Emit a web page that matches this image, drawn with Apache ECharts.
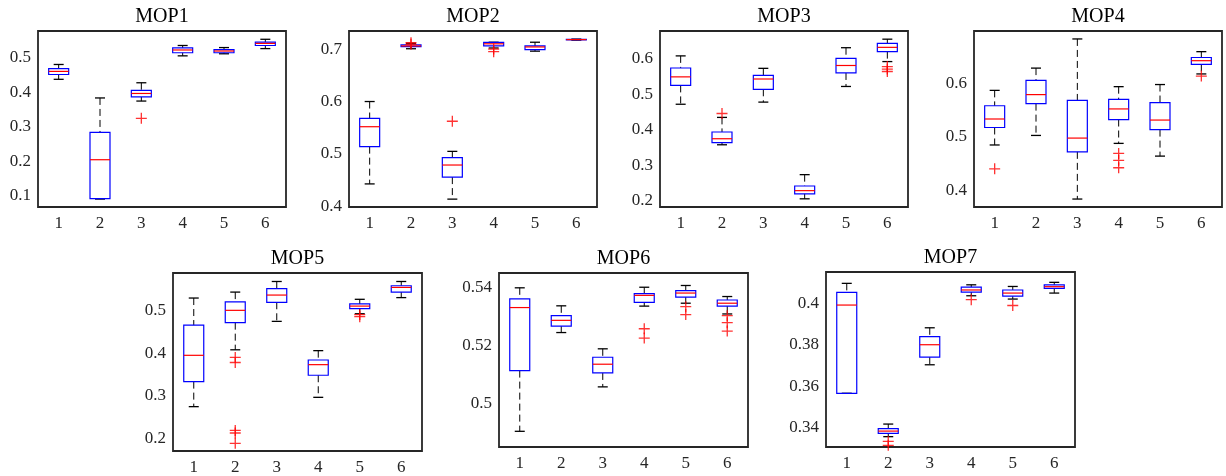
<!DOCTYPE html>
<html>
<head>
<meta charset="utf-8">
<script src="https://cdn.jsdelivr.net/npm/echarts@6/dist/echarts.min.js"></script>
<style>
  html, body { margin: 0; padding: 0; background: #fff; }
  #chart { width: 1226px; height: 476px; }
</style>
</head>
<body>
<div id="chart"></div>
<script>
// --- données : [min, q1, médiane, q3, max] par algorithme --- //
const cats = ['1', '2', '3', '4', '5', '6'];
const titles = ['MOP1', 'MOP2', 'MOP3', 'MOP4', 'MOP5', 'MOP6', 'MOP7'];

const mop1 = [[0.438, 0.452, 0.461, 0.469, 0.481], [0.091, 0.092, 0.205, 0.284, 0.384], [0.375, 0.387, 0.397, 0.406, 0.428],
              [0.506, 0.515, 0.523, 0.529, 0.536], [0.512, 0.515, 0.520, 0.524, 0.530], [0.527, 0.536, 0.542, 0.546, 0.554]];
const mop2 = [[0.443, 0.514, 0.552, 0.568, 0.600], [0.7006, 0.7045, 0.706, 0.708, 0.711], [0.414, 0.456, 0.479, 0.493, 0.505],
              [0.702, 0.706, 0.710, 0.7127, 0.713], [0.696, 0.699, 0.704, 0.706, 0.713], [0.717, 0.7175, 0.718, 0.7185, 0.719]];
const mop3 = [[0.472, 0.525, 0.549, 0.574, 0.608], [0.358, 0.364, 0.375, 0.394, 0.435], [0.478, 0.514, 0.543, 0.553, 0.573],
              [0.206, 0.220, 0.229, 0.242, 0.274], [0.522, 0.560, 0.581, 0.601, 0.631], [0.592, 0.620, 0.632, 0.643, 0.655]];
const mop4 = [[0.485, 0.518, 0.534, 0.559, 0.588], [0.503, 0.563, 0.580, 0.607, 0.630], [0.383, 0.472, 0.498, 0.569, 0.685],
              [0.488, 0.533, 0.553, 0.571, 0.595], [0.464, 0.514, 0.532, 0.565, 0.599], [0.619, 0.637, 0.644, 0.650, 0.661]];
const mop5 = [[0.274, 0.333, 0.395, 0.466, 0.530], [0.408, 0.472, 0.501, 0.521, 0.544], [0.475, 0.520, 0.537, 0.552, 0.569],
              [0.296, 0.348, 0.373, 0.384, 0.406], [0.493, 0.505, 0.511, 0.516, 0.527], [0.531, 0.544, 0.555, 0.559, 0.569]];
const mop6 = [[0.4905, 0.5114, 0.5331, 0.5361, 0.5399], [0.5245, 0.5267, 0.5287, 0.5303, 0.5337], [0.5058, 0.5106, 0.5136, 0.5160, 0.5189],
              [0.5336, 0.5349, 0.5373, 0.5379, 0.5401], [0.5346, 0.5367, 0.5381, 0.5389, 0.5407], [0.5309, 0.5336, 0.5346, 0.5357, 0.5369]];
const mop7 = [[0.3565, 0.3565, 0.3992, 0.4053, 0.4097], [0.3355, 0.3371, 0.3382, 0.3394, 0.3416], [0.3703, 0.3740, 0.3800, 0.3839, 0.3882],
              [0.4037, 0.4055, 0.4065, 0.4079, 0.4090], [0.4021, 0.4035, 0.4050, 0.4065, 0.4082], [0.4050, 0.4073, 0.4081, 0.4090, 0.4102]];

// --- valeurs aberrantes : [algorithme, valeur] --- //
const mop1Out = [[2, 0.325]];
const mop2Out = [[1, 0.712], [1, 0.709], [3, 0.700], [3, 0.695], [2, 0.5624]];
const mop3Out = [[1, 0.446], [5, 0.578], [5, 0.571], [5, 0.564]];
const mop4Out = [[0, 0.440], [3, 0.469], [3, 0.456], [3, 0.442], [5, 0.615]];
const mop5Out = [[1, 0.390], [1, 0.378], [1, 0.218], [1, 0.212], [1, 0.1875], [4, 0.491], [4, 0.486]];
const mop6Out = [[3, 0.5258], [3, 0.5226], [4, 0.5334], [4, 0.5307], [5, 0.5303], [5, 0.5279], [5, 0.5250]];
const mop7Out = [[1, 0.3332], [1, 0.3313], [3, 0.4018], [4, 0.3990]];

// --- bornes des axes y et graduations --- //
const yRanges = [[0.068, 0.578], [0.399, 0.7344], [0.183, 0.678], [0.368, 0.700], [0.1695, 0.589], [0.4851, 0.545], [0.3305, 0.4152]];
const yTicks = [[0.1, 0.2, 0.3, 0.4, 0.5], [0.4, 0.5, 0.6, 0.7], [0.2, 0.3, 0.4, 0.5, 0.6], [0.4, 0.5, 0.6],
                [0.2, 0.3, 0.4, 0.5], [0.5, 0.52, 0.54], [0.34, 0.36, 0.38, 0.4]];

const boxes = [mop1, mop2, mop3, mop4, mop5, mop6, mop7];
const outliers = [mop1Out, mop2Out, mop3Out, mop4Out, mop5Out, mop6Out, mop7Out];

// --- mise en page des sous-graphes --- //
const layout = [
  { left: 38, top: 31, width: 248, height: 176 },
  { left: 349, top: 31, width: 248, height: 176 },
  { left: 660, top: 31, width: 248, height: 176 },
  { left: 974, top: 31, width: 248, height: 176 },
  { left: 173, top: 273, width: 249, height: 179 },
  { left: 499, top: 273, width: 249, height: 174 },
  { left: 826, top: 272, width: 249, height: 175 }
];

const font = "'Liberation Serif', 'Times New Roman', serif";
const axisColor = '#262626';
const plusPath = 'path://M4.4,0 H5.6 V4.4 H10 V5.6 H5.6 V10 H4.4 V5.6 H0 V4.4 H4.4 Z';

function renderBox(params, api) {
  const x = api.value(0);
  const lo = api.coord([x, api.value(1)]);
  const q1 = api.coord([x, api.value(2)]);
  const med = api.coord([x, api.value(3)]);
  const q3 = api.coord([x, api.value(4)]);
  const hi = api.coord([x, api.value(5)]);
  const cx = lo[0];
  const bw = 20, cw = 10;
  const dash = { stroke: '#000', lineWidth: 1, lineDash: [7, 4] };
  const solid = { stroke: '#000', lineWidth: 1.3 };
  return {
    type: 'group',
    children: [
      { type: 'line', shape: { x1: cx, y1: hi[1], x2: cx, y2: q3[1] }, style: dash },
      { type: 'line', shape: { x1: cx, y1: q1[1], x2: cx, y2: lo[1] }, style: dash },
      { type: 'line', shape: { x1: cx - cw / 2, y1: hi[1], x2: cx + cw / 2, y2: hi[1] }, style: solid },
      { type: 'line', shape: { x1: cx - cw / 2, y1: lo[1], x2: cx + cw / 2, y2: lo[1] }, style: solid },
      { type: 'rect', shape: { x: cx - bw / 2, y: q3[1], width: bw, height: q1[1] - q3[1] },
        style: { fill: 'none', stroke: '#0000ff', lineWidth: 1.2 } },
      { type: 'line', shape: { x1: cx - bw / 2, y1: med[1], x2: cx + bw / 2, y2: med[1] },
        style: { stroke: '#ff0000', lineWidth: 1.2 } }
    ]
  };
}

const option = {
  animation: false,
  backgroundColor: '#fff',
  title: [],
  grid: [],
  xAxis: [],
  yAxis: [],
  series: []
};

layout.forEach((g, i) => {
  option.grid.push({ ...g, show: true, borderColor: axisColor, borderWidth: 1.8 });
  option.title.push({
    text: titles[i],
    left: g.left + g.width / 2,
    top: g.top - 24,
    textAlign: 'center',
    padding: 0,
    textStyle: { fontFamily: font, fontSize: 20, fontWeight: 'normal', color: '#000' }
  });
  const tick = { inside: true, length: 4, lineStyle: { color: axisColor, width: 1.5 } };
  option.xAxis.push(
    { gridIndex: i, type: 'category', data: cats, position: 'bottom',
      axisLine: { show: false }, splitLine: { show: false },
      axisTick: { ...tick, alignWithLabel: true },
      axisLabel: { fontFamily: font, fontSize: 17, color: axisColor, margin: 8 } },
    { gridIndex: i, type: 'category', data: cats, position: 'top',
      axisLine: { show: false }, splitLine: { show: false },
      axisTick: { ...tick, alignWithLabel: true }, axisLabel: { show: false } }
  );
  option.yAxis.push(
    { gridIndex: i, type: 'value', min: yRanges[i][0], max: yRanges[i][1], position: 'left',
      axisLine: { show: false }, splitLine: { show: false },
      axisTick: { ...tick, customValues: yTicks[i] },
      axisLabel: { customValues: yTicks[i], fontFamily: font, fontSize: 17, color: axisColor, margin: 7 } },
    { gridIndex: i, type: 'value', min: yRanges[i][0], max: yRanges[i][1], position: 'right',
      axisLine: { show: false }, splitLine: { show: false },
      axisTick: { ...tick, customValues: yTicks[i] }, axisLabel: { show: false } }
  );
  option.series.push(
    { type: 'custom', xAxisIndex: 2 * i, yAxisIndex: 2 * i, renderItem: renderBox,
      encode: { x: 0, y: [1, 2, 3, 4, 5] },
      data: boxes[i].map((b, k) => [k].concat(b)) },
    { type: 'scatter', xAxisIndex: 2 * i, yAxisIndex: 2 * i, symbol: plusPath, symbolSize: 11,
      itemStyle: { color: '#ff0000' }, data: outliers[i] }
  );
});

const chart = echarts.init(document.getElementById('chart'));
chart.setOption(option);
</script>
</body>
</html>
